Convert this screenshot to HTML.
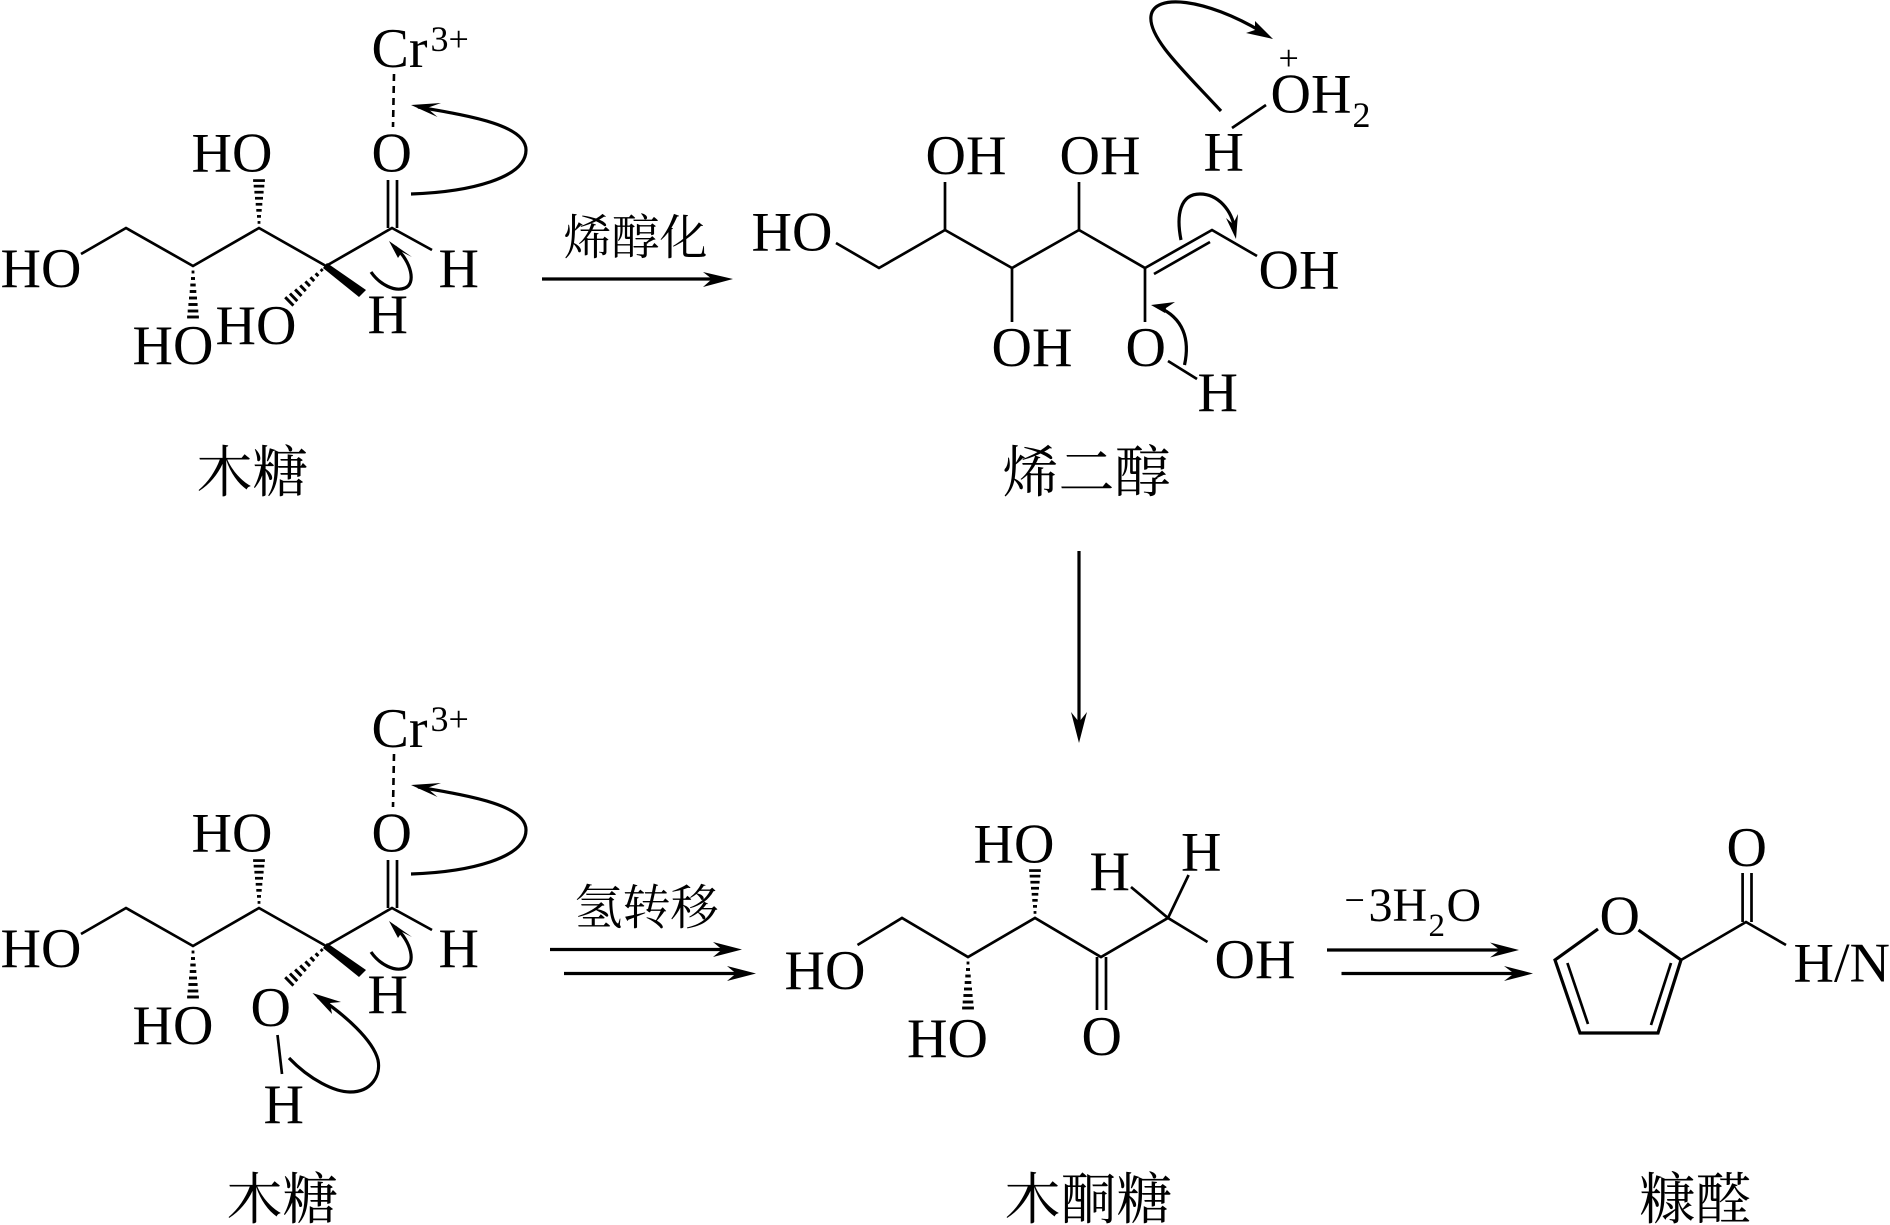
<!DOCTYPE html>
<html lang="zh">
<head>
<meta charset="utf-8">
<title>木糖 reaction diagram</title>
<style>
html,body{margin:0;padding:0;background:#fff}
svg{display:block}
text{font-family:"Liberation Serif","Noto Serif CJK SC",serif;font-size:56px;fill:#000;transform:translateX(-1.5px)}
.s{font-size:36px}
.m{font-size:48px}
.cj{font-size:56px}
.l{fill:none;stroke:#000;stroke-width:2.7}
.a{fill:none;stroke:#000;stroke-width:3.2}
</style>
</head>
<body>
<svg xmlns="http://www.w3.org/2000/svg" width="1890" height="1225" viewBox="0 0 1890 1225">
<rect width="1890" height="1225" fill="#fff"/>
<defs>
<g id="hash" stroke="#000" stroke-width="2.9">
<line x1="6" y1="-1.4" x2="6" y2="1.4"/>
<line x1="12.5" y1="-2" x2="12.5" y2="2"/>
<line x1="19" y1="-2.7" x2="19" y2="2.7"/>
<line x1="25.5" y1="-3.3" x2="25.5" y2="3.3"/>
<line x1="32" y1="-4" x2="32" y2="4"/>
<line x1="38.5" y1="-4.6" x2="38.5" y2="4.6"/>
<line x1="45" y1="-5.3" x2="45" y2="5.3"/>
<line x1="51" y1="-5.9" x2="51" y2="5.9"/>
</g>
<g id="xyl">
<polyline class="l" points="81,254 126,228 193,266 259,228 326,266 392,228 432,250"/>
<line class="l" x1="388" y1="180" x2="388" y2="228"/>
<line class="l" x1="397" y1="180" x2="397" y2="228"/>
<line x1="394" y1="74" x2="393" y2="127" stroke="#000" stroke-width="2.6" stroke-dasharray="7 5"/>
<use href="#hash" transform="translate(259,228) rotate(-90) scale(.93,1)"/>
<use href="#hash" transform="translate(193,266) rotate(90)"/>
<use href="#hash" transform="translate(326,266) rotate(136)"/>
<polygon points="327,263 323,268 359,297 366,290"/>
<path class="a" d="M411,194 C470,192 526,178 526,150 C526,125 470,116 418,107"/>
<polygon points="411,105 441,103 427,108 437.5,117"/>
<path class="a" d="M371,272 C380,285 395,292 405,288 C416,284 412,262 395,247"/>
<polygon points="389,241 412,257 402,252 398,258"/>
</g>
</defs>

<!-- top left -->
<use href="#xyl"/>
<text x="373" y="67">Cr</text><text class="s" x="432" y="51">3+</text>
<text x="373" y="171.5">O</text>
<text x="193" y="171.5">HO</text>
<text x="2" y="287">HO</text>
<text x="440" y="287">H</text>
<text x="134" y="364">HO</text>
<text x="217" y="344">HO</text>
<text x="369" y="333">H</text>
<text class="cj" x="198" y="492">木糖</text>

<!-- arrow 1 -->
<line class="a" x1="542" y1="279" x2="715" y2="279"/>
<polygon points="733,279 703,272 712,279 703,287"/>
<text class="m" x="565" y="254">烯醇化</text>

<!-- top right -->
<polyline class="l" points="836,243 879,268 945,230 1012,268 1079,230 1145,268 1212,230 1257,256"/>
<line class="l" x1="1154" y1="274" x2="1210" y2="242"/>
<line class="l" x1="945" y1="230" x2="945" y2="182"/>
<line class="l" x1="1079" y1="230" x2="1079" y2="182"/>
<line class="l" x1="1012" y1="268" x2="1012" y2="322"/>
<line class="l" x1="1145" y1="268" x2="1145" y2="322"/>
<line class="l" x1="1168" y1="361" x2="1197" y2="379"/>
<line class="l" x1="1232" y1="128" x2="1266" y2="105"/>
<path class="a" d="M1221,111 C1185,72 1148,38 1151,16 C1154,-7 1205,-2 1262,32"/>
<polygon points="1273,39 1255,21 1255,30 1246,33"/>
<path class="a" d="M1181,240 C1176,215 1180,194 1200,194 C1218,194 1232,210 1235,230"/>
<polygon points="1236,239 1226,218 1233,224 1238,214"/>
<path class="a" d="M1184.5,365 C1190,340 1184,318 1158,307"/>
<polygon points="1151,305 1175,302 1166,308 1165,313"/>
<text x="753" y="250.5">HO</text>
<text x="927" y="174">OH</text>
<text x="1061" y="174">OH</text>
<text x="1260" y="288.5">OH</text>
<text x="993" y="366">OH</text>
<text x="1127" y="366">O</text>
<text x="1199" y="411">H</text>
<text x="1205" y="170.5">H</text>
<text x="1272" y="112.5">OH</text>
<text class="s" x="1354" y="127">2</text>
<text class="s" x="1280" y="70">+</text>
<text class="cj" x="1004" y="492">烯二醇</text>

<!-- vertical arrow -->
<line class="a" x1="1079" y1="551" x2="1079" y2="725"/>
<polygon points="1079,743 1071,712 1079,722 1087,712"/>

<!-- bottom left -->
<use href="#xyl" transform="translate(0,680)"/>
<text x="373" y="747">Cr</text><text class="s" x="432" y="731">3+</text>
<text x="373" y="851.5">O</text>
<text x="193" y="851.5">HO</text>
<text x="2" y="967">HO</text>
<text x="440" y="967">H</text>
<text x="134" y="1044">HO</text>
<text x="252" y="1026">O</text>
<text x="369" y="1013">H</text>
<text x="265" y="1123">H</text>
<line class="l" x1="277.5" y1="1035" x2="282" y2="1074"/>
<path class="a" d="M289,1058 C310,1080 335,1092 350,1092 C372,1092 381,1075 378,1060 C373,1040 345,1015 318,997"/>
<polygon points="312.5,993 341,1002 330,1003 332,1014"/>
<text class="cj" x="228" y="1219">木糖</text>

<!-- arrows 2 -->
<text class="m" x="576" y="924">氢转移</text>
<line class="a" x1="550" y1="949.5" x2="725" y2="949.5"/>
<polygon points="742,949.5 713,942 722,949.5 713,957"/>
<line class="a" x1="564" y1="973.5" x2="739" y2="973.5"/>
<polygon points="756,973.5 727,966 736,973.5 727,981"/>

<!-- xylulose -->
<polyline class="l" points="857.5,945 902,918 968,957 1035,918 1101,957 1168,918 1207.5,942"/>
<line class="l" x1="1168" y1="918" x2="1131" y2="887"/>
<line class="l" x1="1168" y1="918" x2="1188.6" y2="875"/>
<line class="l" x1="1097" y1="957" x2="1097" y2="1010"/>
<line class="l" x1="1106" y1="957" x2="1106" y2="1010"/>
<use href="#hash" transform="translate(1035,918) rotate(-90) scale(.93,1)"/>
<use href="#hash" transform="translate(968,957) rotate(90)"/>
<text x="975" y="862.5">HO</text>
<text x="1091" y="890">H</text>
<text x="1182.5" y="870.5">H</text>
<text x="786" y="989">HO</text>
<text x="1216" y="978">OH</text>
<text x="908.5" y="1057">HO</text>
<text x="1083" y="1055">O</text>
<text class="cj" x="1006" y="1219">木酮糖</text>

<!-- arrows 3 -->
<text style="font-size:36px" x="1346" y="912">−</text>
<text class="m" x="1370" y="921">3H</text>
<text style="font-size:33px" x="1430" y="936">2</text>
<text class="m" x="1448" y="921">O</text>
<line class="a" x1="1327" y1="950" x2="1502" y2="950"/>
<polygon points="1519,950 1490,942.5 1500,950 1490,957.5"/>
<line class="a" x1="1341.5" y1="973.5" x2="1516" y2="973.5"/>
<polygon points="1533,973.5 1504,966 1514,973.5 1504,981"/>

<!-- furfural -->
<polyline class="a" points="1598,929 1555,960 1580,1033 1658,1033 1681,960 1638.5,930" stroke-linejoin="miter"/>
<line class="l" x1="1567.4" y1="963" x2="1588" y2="1024"/>
<line class="l" x1="1671" y1="963" x2="1651" y2="1025"/>
<polyline class="l" points="1681,960 1746,922 1786,945"/>
<line class="l" x1="1742.6" y1="873" x2="1742.6" y2="922"/>
<line class="l" x1="1751.5" y1="873" x2="1751.5" y2="922"/>
<text x="1601" y="934.5">O</text>
<text x="1728" y="866">O</text>
<text x="1795" y="981.5">H/N</text>
<text class="cj" x="1641" y="1219">糠醛</text>
</svg>
</body>
</html>
